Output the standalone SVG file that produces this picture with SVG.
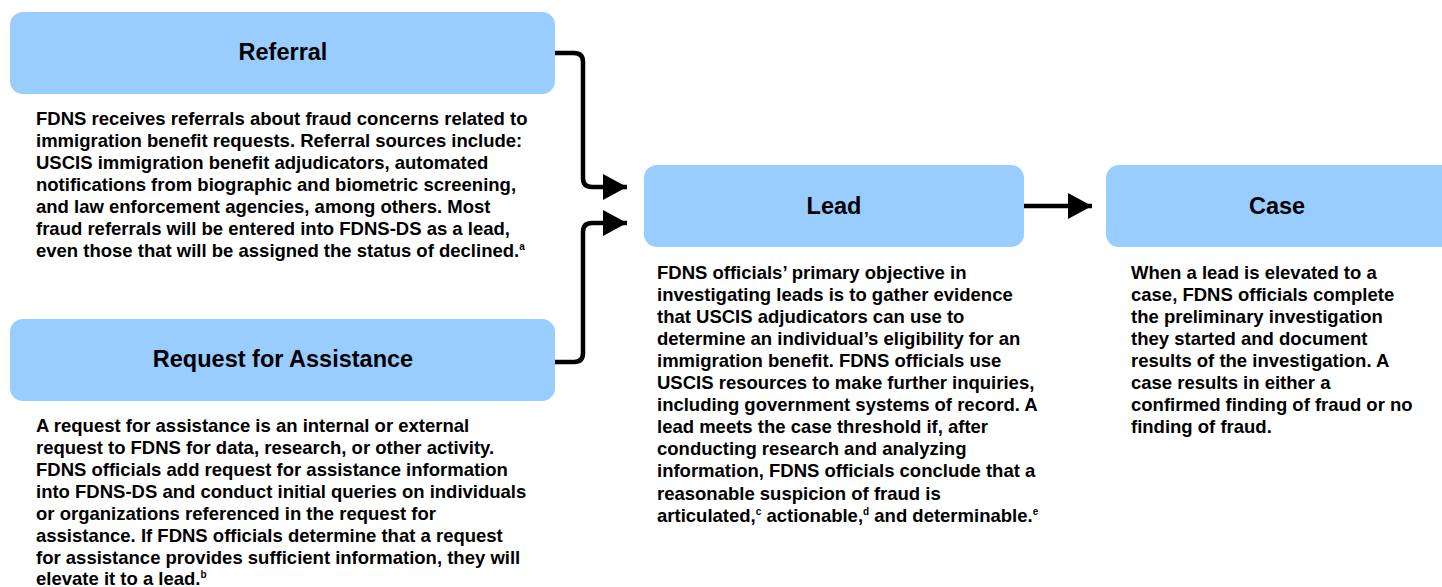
<svg xmlns="http://www.w3.org/2000/svg" width="1442" height="587" viewBox="0 0 1442 587">
<style>
.box{fill:#99CCFF;}
.title{font-family:"Liberation Sans",Arial,sans-serif;font-weight:bold;font-size:23.5px;fill:#000;text-anchor:middle;}
.body{font-family:"Liberation Sans",Arial,sans-serif;font-weight:bold;font-size:18.5px;fill:#000;}
.sup{font-size:10px;}
.conn{fill:none;stroke:#000;stroke-width:4.5;}
</style>
<defs>
<marker id="arrow" markerUnits="userSpaceOnUse" markerWidth="24" markerHeight="26" refX="24" refY="13" orient="auto">
<path d="M0,0 L24,13 L0,26 Z" fill="#000"/>
</marker>
</defs>
<rect width="1442" height="587" fill="#fff"/>
<g id="connectors">
<path class="conn" d="M555,53 H574 Q583,53 583,62 V178 Q583,187 592,187 H627" marker-end="url(#arrow)"/>
<path class="conn" d="M555,362 H574 Q583,362 583,353 V232 Q583,223 592,223 H627" marker-end="url(#arrow)"/>
<path class="conn" d="M1024,206 H1092" marker-end="url(#arrow)"/>
</g>
<g id="referral">
<rect class="box" x="10" y="12" width="545" height="82" rx="13"/>
<text class="title" x="283" y="59.5">Referral</text>
<text class="body">
<tspan x="36" y="125">FDNS receives referrals about fraud concerns related to</tspan>
<tspan x="36" y="147">immigration benefit requests. Referral sources include:</tspan>
<tspan x="36" y="169">USCIS immigration benefit adjudicators, automated</tspan>
<tspan x="36" y="191">notifications from biographic and biometric screening,</tspan>
<tspan x="36" y="213">and law enforcement agencies, among others. Most</tspan>
<tspan x="36" y="235">fraud referrals will be entered into FDNS-DS as a lead,</tspan>
<tspan x="36" y="257">even those that will be assigned the status of declined.<tspan class="sup" dy="-7">a</tspan></tspan>
</text>
</g>
<g id="request">
<rect class="box" x="10" y="319" width="545" height="82" rx="13"/>
<text class="title" x="283" y="366.5">Request for Assistance</text>
<text class="body">
<tspan x="36" y="432">A request for assistance is an internal or external</tspan>
<tspan x="36" y="454">request to FDNS for data, research, or other activity.</tspan>
<tspan x="36" y="476">FDNS officials add request for assistance information</tspan>
<tspan x="36" y="498">into FDNS-DS and conduct initial queries on individuals</tspan>
<tspan x="36" y="520">or organizations referenced in the request for</tspan>
<tspan x="36" y="541.5">assistance. If FDNS officials determine that a request</tspan>
<tspan x="36" y="563.5">for assistance provides sufficient information, they will</tspan>
<tspan x="36" y="585">elevate it to a lead.<tspan class="sup" dy="-7">b</tspan></tspan>
</text>
</g>
<g id="lead">
<rect class="box" x="644" y="165" width="380" height="82" rx="13"/>
<text class="title" x="834" y="213.5">Lead</text>
<text class="body">
<tspan x="657" y="278.5">FDNS officials’ primary objective in</tspan>
<tspan x="657" y="300.6">investigating leads is to gather evidence</tspan>
<tspan x="657" y="322.7">that USCIS adjudicators can use to</tspan>
<tspan x="657" y="344.8">determine an individual’s eligibility for an</tspan>
<tspan x="657" y="366.9">immigration benefit. FDNS officials use</tspan>
<tspan x="657" y="389">USCIS resources to make further inquiries,</tspan>
<tspan x="657" y="411.1">including government systems of record. A</tspan>
<tspan x="657" y="433.2">lead meets the case threshold if, after</tspan>
<tspan x="657" y="455.3">conducting research and analyzing</tspan>
<tspan x="657" y="477.4">information, FDNS officials conclude that a</tspan>
<tspan x="657" y="499.5">reasonable suspicion of fraud is</tspan>
<tspan x="657" y="521.6">articulated,<tspan class="sup" dy="-7">c</tspan><tspan dy="7"> actionable,</tspan><tspan class="sup" dy="-7">d</tspan><tspan dy="7"> and determinable.</tspan><tspan class="sup" dy="-7">e</tspan></tspan>
</text>
</g>
<g id="case">
<rect class="box" x="1106" y="165" width="350" height="82" rx="13"/>
<text class="title" x="1277" y="213.5">Case</text>
<text class="body">
<tspan x="1131" y="278.5">When a lead is elevated to a</tspan>
<tspan x="1131" y="300.6">case, FDNS officials complete</tspan>
<tspan x="1131" y="322.7">the preliminary investigation</tspan>
<tspan x="1131" y="344.8">they started and document</tspan>
<tspan x="1131" y="366.9">results of the investigation. A</tspan>
<tspan x="1131" y="389">case results in either a</tspan>
<tspan x="1131" y="411.1">confirmed finding of fraud or no</tspan>
<tspan x="1131" y="433.2">finding of fraud.</tspan>
</text>
</g>
</svg>
